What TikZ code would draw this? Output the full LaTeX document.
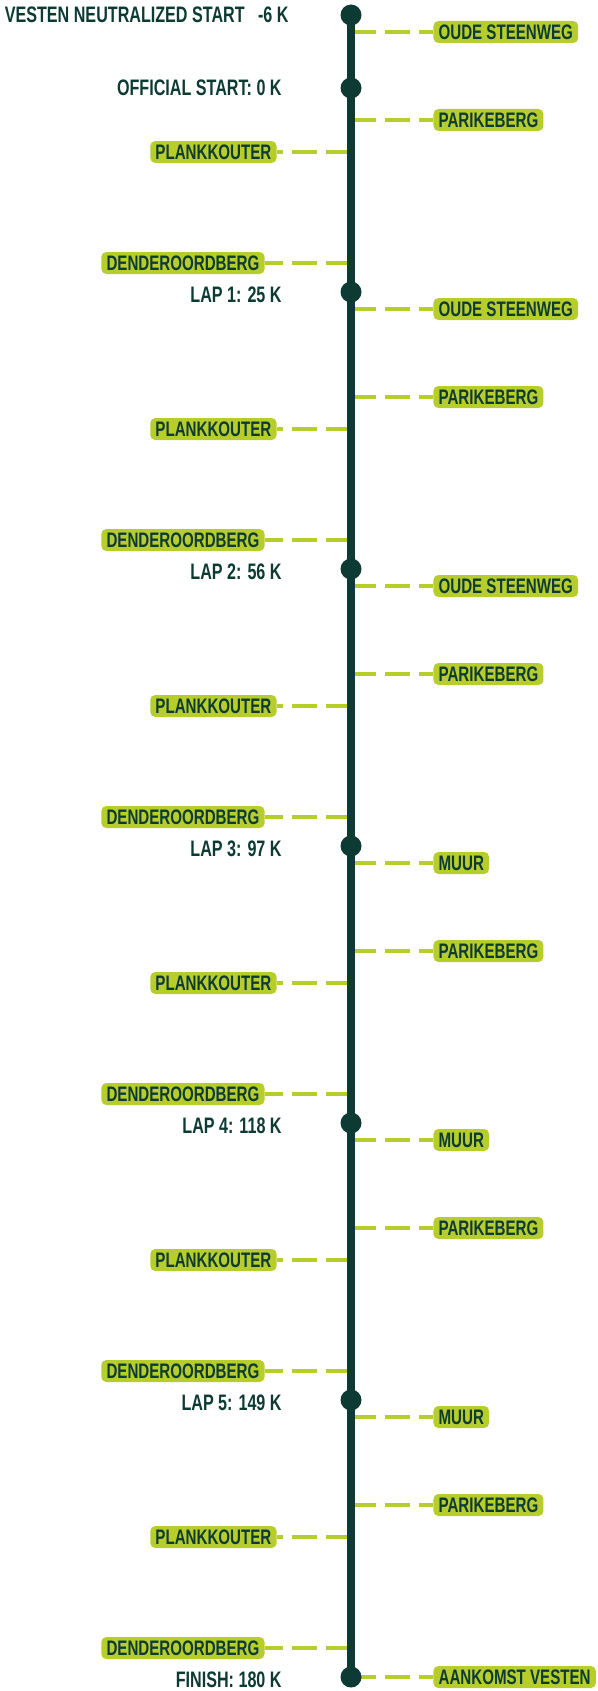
\documentclass[tikz,border=0pt]{standalone}
\usepackage{fontspec}
\newfontfamily\racefont[FakeStretch=0.72]{Liberation Sans}
\definecolor{racegreen}{HTML}{0D3B33}
\definecolor{racelime}{HTML}{B7CD2C}
\tikzset{
  spine/.style={line width=3.8pt, racegreen},
  stop/.style={circle, fill=racegreen, minimum size=10.5pt, inner sep=0pt},
  climb/.style={fill=racelime, text=racegreen, rounded corners=2.5pt,
    font=\racefont\bfseries\fontsize{10.5}{12}\selectfont,
    text height=7.6pt, text depth=0pt, inner xsep=2.6pt, inner ysep=1.7pt},
  kmlabel/.style={text=racegreen, inner sep=0pt, text height=8pt, text depth=0pt,
    font=\racefont\bfseries\fontsize{11.2}{13}\selectfont},
  lead/.style={racelime, line width=1.6pt, dash pattern=on 12.5pt off 4.5pt},
}
\begin{document}
\begin{tikzpicture}[x=0.5pt, y=-0.5pt]
\useasboundingbox (0,0) rectangle (598,1691);
\coordinate (top) at (351,15);
\coordinate (bottom) at (351,1677);

% distances on the left
\node[kmlabel, anchor=east] (km0) at (289,15) {VESTEN NEUTRALIZED START\ \ \ -6 K};
\node[kmlabel, anchor=east] (km1) at (282,88) {OFFICIAL START: 0 K};
\foreach \lap/\dist/\y in {1/25/294, 2/56/571, 3/97/848, 4/118/1125, 5/149/1402}
  \node[kmlabel, anchor=east] (lap\lap) at (282,\y) {LAP \lap: \dist\ K};
\node[kmlabel, anchor=east] (finish) at (282,1679) {FINISH: 180 K};

% climb right after each passage
\foreach \d/\climbname [count=\i] in {15/OUDE STEENWEG, 292/OUDE STEENWEG, 569/OUDE STEENWEG, 846/MUUR, 1123/MUUR, 1400/MUUR} {
  \node[climb, anchor=west] (first\i) at (433,\d+17) {\climbname};
  \draw[lead] (first\i.west -| top) -- (first\i.west);
}

% the three climbs before each passage
\foreach \n [count=\i] in {292,569,846,1123,1400,1677} {
  \node[climb, anchor=west] (parike\i) at (433,\n-172) {PARIKEBERG};
  \node[climb, anchor=east] (plank\i) at (277,\n-140) {PLANKKOUTER};
  \node[climb, anchor=east] (dender\i) at (265,\n-29) {DENDEROORDBERG};
  \draw[lead] (parike\i.west -| top) -- (parike\i.west);
  \draw[lead] (plank\i.east -| top) -- (plank\i.east);
  \draw[lead] (dender\i.east -| top) -- (dender\i.east);
}

\node[climb, anchor=west] (arrival) at (433,1677) {AANKOMST VESTEN};
\draw[lead] (bottom) -- (arrival.west);

% course line and passages
\draw[spine] (top) -- (bottom);
\foreach \y [count=\i] in {15,88,292,569,846,1123,1400,1677}
  \node[stop] (s\i) at (351,\y) {};
\end{tikzpicture}
\end{document}
